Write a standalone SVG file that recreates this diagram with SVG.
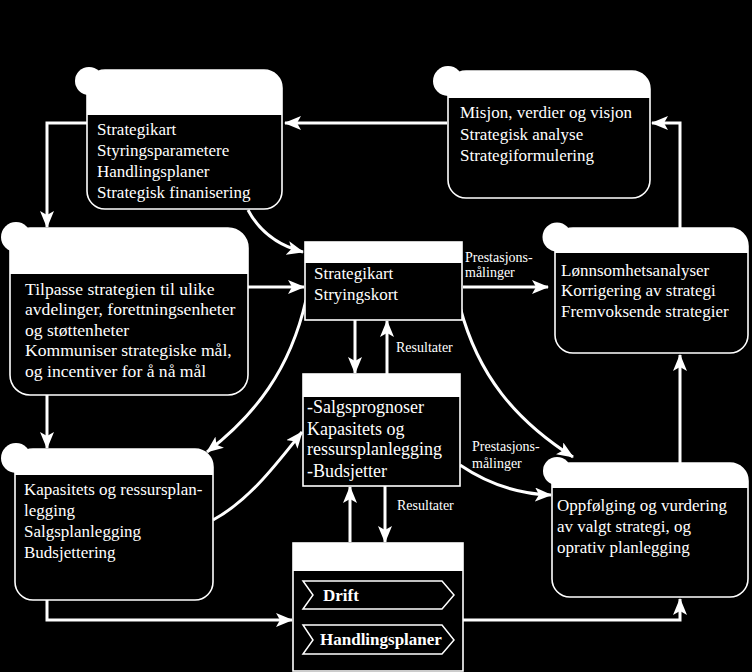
<svg xmlns="http://www.w3.org/2000/svg" width="752" height="672" viewBox="0 0 752 672">
<defs>
<marker id="ah" markerUnits="userSpaceOnUse" markerWidth="18" markerHeight="14" refX="16" refY="7" orient="auto">
<path d="M0,0 L17,7 L0,14 L4,7 Z" fill="#fff"/>
</marker>
</defs>
<style>
.body{fill:#000;stroke:#fff;stroke-width:1.6}
.hdr{fill:#fff}
.t{font-family:"Liberation Serif","Times New Roman",serif;font-size:17px;fill:#fff}
.t18{font-size:18px}
.tc{font-size:17.6px}
.lbl{font-family:"Liberation Serif","Times New Roman",serif;font-size:14px;fill:#fff}
.b{font-family:"Liberation Serif","Times New Roman",serif;font-size:17px;font-weight:bold;fill:#fff}
.c{fill:none;stroke:#fff;stroke-width:3;marker-end:url(#ah)}
.chev{fill:none;stroke:#fff;stroke-width:1.5}
</style>
<rect width="752" height="672" fill="#000"/>

<g id="connectors">
<path class="c" d="M447,123 L285,123"/>
<path class="c" d="M680,228 L680,123 L652,123"/>
<path class="c" d="M87,123 L47,123 L47,227"/>
<path class="c" d="M47,395 L47,448"/>
<path class="c" d="M248,210 Q265,242 303,252"/>
<path class="c" d="M248,287 L304,287"/>
<path class="c" d="M463,287 L548,287"/>
<path class="c" d="M306,300 C290,370 255,415 207,452"/>
<path class="c" d="M213,520 C250,500 278,462 302,432"/>
<path class="c" d="M460,307 C478,375 515,420 573,457"/>
<path class="c" d="M460,465 C488,484 518,494 551,495"/>
<path class="c" d="M680,463 L680,355"/>
<path class="c" d="M47,600 L47,620 L292,620"/>
<path class="c" d="M463,620 L680,620 L680,599"/>
<path class="c" d="M355,320 L355,373"/>
<path class="c" d="M387,374 L387,321"/>
<path class="c" d="M350,542 L350,487"/>
<path class="c" d="M385,486 L385,542"/>
<text class="lbl" x="465" y="262">Prestasjons-</text>
<text class="lbl" x="465" y="277">målinger</text>
<text class="lbl" x="396" y="352">Resultater</text>
<text class="lbl" x="472" y="451">Prestasjons-</text>
<text class="lbl" x="472" y="468">målinger</text>
<text class="lbl" x="397" y="510">Resultater</text>
</g>

<g id="nodeA">
<rect class="body" x="87" y="70" width="195" height="139" rx="18"/>
<path class="hdr" d="M87,115 L87,88 A18,18 0 0 1 105,70 L264,70 A18,18 0 0 1 282,88 L282,115 Z"/>
<circle class="hdr" cx="89" cy="81" r="14"/>
<text class="t" x="97" y="135">Strategikart</text>
<text class="t" x="97" y="156">Styringsparametere</text>
<text class="t" x="97" y="177">Handlingsplaner</text>
<text class="t" x="97" y="198">Strategisk finanisering</text>
</g>

<g id="nodeB">
<rect class="body" x="448" y="71" width="202" height="127" rx="18"/>
<path class="hdr" d="M448,98 L448,89 A18,18 0 0 1 466,71 L632,71 A18,18 0 0 1 650,89 L650,98 Z"/>
<circle class="hdr" cx="448" cy="81" r="15"/>
<text class="t" x="460" y="118">Misjon, verdier og visjon</text>
<text class="t" x="460" y="140">Strategisk analyse</text>
<text class="t" x="460" y="161">Strategiformulering</text>
</g>

<g id="nodeC">
<rect class="body" x="10" y="228" width="238" height="167" rx="20"/>
<path class="hdr" d="M10,274 L10,248 A20,20 0 0 1 30,228 L228,228 A20,20 0 0 1 248,248 L248,274 Z"/>
<circle class="hdr" cx="16" cy="237" r="15"/>
<text class="t tc" x="25" y="295">Tilpasse strategien til ulike</text>
<text class="t tc" x="25" y="315">avdelinger, forettningsenheter</text>
<text class="t tc" x="25" y="336">og støttenheter</text>
<text class="t tc" x="25" y="356">Kommuniser strategiske mål,</text>
<text class="t tc" x="25" y="377">og incentiver for å nå mål</text>
</g>

<g id="nodeD">
<rect class="body" x="305" y="242" width="157" height="78"/>
<rect class="hdr" x="305" y="242" width="157" height="21"/>
<text class="t" x="314" y="279">Strategikart</text>
<text class="t" x="314" y="300">Stryingskort</text>
</g>

<g id="nodeE">
<rect class="body" x="555" y="228" width="193" height="125" rx="18"/>
<path class="hdr" d="M555,253 L555,246 A18,18 0 0 1 573,228 L730,228 A18,18 0 0 1 748,246 L748,253 Z"/>
<circle class="hdr" cx="557" cy="237" r="14.5"/>
<text class="t" x="561" y="276">Lønnsomhetsanalyser</text>
<text class="t" x="561" y="296">Korrigering av strategi</text>
<text class="t" x="561" y="317">Fremvoksende strategier</text>
</g>

<g id="nodeF">
<rect class="body" x="15" y="449" width="198" height="151" rx="18"/>
<path class="hdr" d="M15,475 L15,467 A18,18 0 0 1 33,449 L195,449 A18,18 0 0 1 213,467 L213,475 Z"/>
<circle class="hdr" cx="16" cy="458" r="15"/>
<text class="t" x="24" y="495">Kapasitets og ressursplan-</text>
<text class="t" x="24" y="516">legging</text>
<text class="t" x="24" y="537">Salgsplanlegging</text>
<text class="t" x="24" y="558">Budsjettering</text>
</g>

<g id="nodeG">
<rect class="body" x="303" y="374" width="157" height="112"/>
<rect class="hdr" x="303" y="374" width="157" height="23"/>
<text class="t t18" x="307" y="413">-Salgsprognoser</text>
<text class="t t18" x="307" y="435">Kapasitets og</text>
<text class="t t18" x="307" y="455">ressursplanlegging</text>
<text class="t t18" x="307" y="477">-Budsjetter</text>
</g>

<g id="nodeH">
<rect class="body" x="552" y="463" width="196" height="134" rx="18"/>
<path class="hdr" d="M552,488 L552,481 A18,18 0 0 1 570,463 L730,463 A18,18 0 0 1 748,481 L748,488 Z"/>
<circle class="hdr" cx="557" cy="471" r="14"/>
<text class="t" x="557" y="511">Oppfølging og vurdering</text>
<text class="t" x="557" y="532">av valgt strategi, og</text>
<text class="t" x="557" y="553">oprativ planlegging</text>
</g>

<g id="nodeI">
<rect class="body" x="293" y="543" width="170" height="128"/>
<rect class="hdr" x="293" y="543" width="170" height="28"/>
<polygon class="chev" points="303,581 442,581 454,595 442,609 303,609 313,595"/>
<polygon class="chev" points="303,625 442,625 454,640 442,654 303,654 313,640"/>
<text class="b" x="323" y="601">Drift</text>
<text class="b" x="320" y="645">Handlingsplaner</text>
</g>
</svg>
